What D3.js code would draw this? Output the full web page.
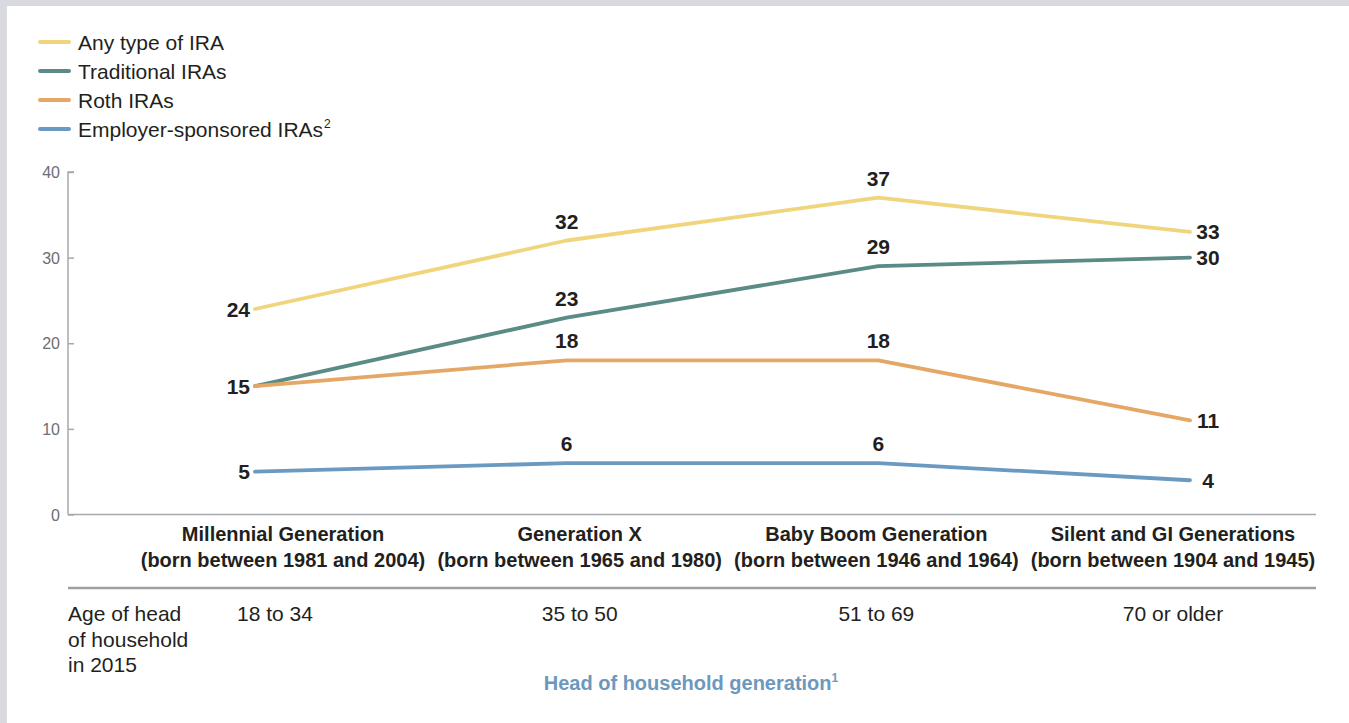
<!DOCTYPE html>
<html>
<head>
<meta charset="utf-8">
<script src="https://cdn.jsdelivr.net/npm/d3@7"></script>
<style>
  html, body { margin: 0; padding: 0; background: #d9dadf; }
  svg { display: block; }
  text { font-family: "Liberation Sans", Arial, sans-serif; }
</style>
</head>
<body>
<svg id="chart" width="1349" height="723"></svg>
<script>
// ---- Data ----
const generations = ["Millennial Generation", "Generation X", "Baby Boom Generation", "Silent and GI Generations"];
const bornRanges = ["(born between 1981 and 2004)", "(born between 1965 and 1980)", "(born between 1946 and 1964)", "(born between 1904 and 1945)"];
const ageRanges = ["18 to 34", "35 to 50", "51 to 69", "70 or older"];
const seriesNames = ["Any type of IRA", "Traditional IRAs", "Roth IRAs", "Employer-sponsored IRAs"];
const anyIRA = [24, 32, 37, 33];
const traditionalIRA = [15, 23, 29, 30];
const rothIRA = [15, 18, 18, 11];
const employerIRA = [5, 6, 6, 4];
const yTicks = [0, 10, 20, 30, 40];

const colors = ["#f1d57c", "#5b8b86", "#e4a765", "#6a9ac2"];
const seriesValues = [anyIRA, traditionalIRA, rothIRA, employerIRA];

const svg = d3.select("#chart");
svg.append("rect").attr("x", 7).attr("y", 6).attr("width", 1342).attr("height", 717).attr("fill", "#ffffff");

const x = d3.scalePoint().domain(generations).range([255, 1190]);
const xLab = d3.scalePoint().domain(generations).range([283, 1173]);
const y = d3.scaleLinear().domain([0, 40]).range([514.5, 172]);

const axisColor = "#a7a9ac";
const dark = "#231f20";

// Y axis
const yAxis = d3.axisRight(y).tickValues(yTicks).tickSize(6);
const gy = svg.append("g").attr("transform", "translate(68,0)").call(yAxis);
gy.select(".domain").attr("stroke", axisColor).attr("stroke-width", 1.5).attr("d", `M6,${y(40)}H0V${y(0)}`);
gy.selectAll(".tick line").attr("stroke", axisColor).attr("stroke-width", 1.5);
gy.selectAll(".tick text").attr("fill", "#6d6e71").attr("font-size", 16)
  .attr("text-anchor", "end").attr("x", -8).attr("dy", "0.35em")
  .style("font-family", "'Liberation Sans', Arial, sans-serif");

// X baseline
svg.append("line").attr("x1", 68).attr("x2", 1316).attr("y1", y(0)).attr("y2", y(0))
  .attr("stroke", axisColor).attr("stroke-width", 1.5);

// Separator line
svg.append("line").attr("x1", 68).attr("x2", 1316).attr("y1", 588).attr("y2", 588)
  .attr("stroke", "#a0a0a2").attr("stroke-width", 2.5);

// Lines
const line = d3.line().x((d, i) => x(generations[i])).y(d => y(d));
seriesValues.forEach((vals, s) => {
  svg.append("path").datum(vals).attr("d", line)
    .attr("fill", "none").attr("stroke", colors[s]).attr("stroke-width", 3.8)
    .attr("stroke-linecap", "round").attr("stroke-linejoin", "round");
});

// Data labels
seriesValues.forEach((vals, s) => {
  vals.forEach((v, i) => {
    if (i === 0 && s === 2) return; // Roth 15 shares label with Traditional 15
    const t = svg.append("text").text(v).attr("fill", dark)
      .attr("font-size", 21).attr("font-weight", "bold");
    if (i === 0) {
      t.attr("x", x(generations[i]) - 5).attr("y", y(v) + 7.5).attr("text-anchor", "end");
    } else if (i === 3) {
      t.attr("x", x(generations[i]) + 18).attr("y", y(v) + 7.5).attr("text-anchor", "middle");
    } else {
      t.attr("x", x(generations[i])).attr("y", y(v) - 12).attr("text-anchor", "middle");
    }
  });
});

// Category labels
generations.forEach((g, i) => {
  svg.append("text").text(g).attr("x", xLab(g)).attr("y", 541)
    .attr("text-anchor", "middle").attr("font-size", 20).attr("font-weight", "bold").attr("fill", dark);
  svg.append("text").text(bornRanges[i]).attr("x", xLab(g)).attr("y", 567)
    .attr("text-anchor", "middle").attr("font-size", 20).attr("font-weight", "bold").attr("fill", dark);
  svg.append("text").text(ageRanges[i]).attr("x", xLab(g) - (i === 0 ? 8 : 0)).attr("y", 621)
    .attr("text-anchor", "middle").attr("font-size", 21).attr("fill", dark);
});

// Row label
["Age of head", "of household", "in 2015"].forEach((t, i) => {
  svg.append("text").text(t).attr("x", 68).attr("y", 621 + i * 25.5)
    .attr("font-size", 21).attr("fill", dark);
});

// Axis title
const title = svg.append("text").attr("x", 691).attr("y", 690).attr("text-anchor", "middle")
  .attr("font-size", 20).attr("font-weight", "bold").attr("fill", "#6d98be");
title.append("tspan").text("Head of household generation");
title.append("tspan").text("1").attr("font-size", 12).attr("dy", -8);

// Legend
seriesNames.forEach((n, i) => {
  const ly = 42 + i * 29;
  svg.append("line").attr("x1", 40).attr("x2", 69).attr("y1", ly).attr("y2", ly)
    .attr("stroke", colors[i]).attr("stroke-width", 4).attr("stroke-linecap", "round");
  const t = svg.append("text").attr("x", 78).attr("y", ly + 8).attr("font-size", 21).attr("fill", dark);
  t.append("tspan").text(n);
  if (i === 3) t.append("tspan").text("2").attr("font-size", 12).attr("dy", -9).attr("dx", 1);
});
</script>
</body>
</html>
